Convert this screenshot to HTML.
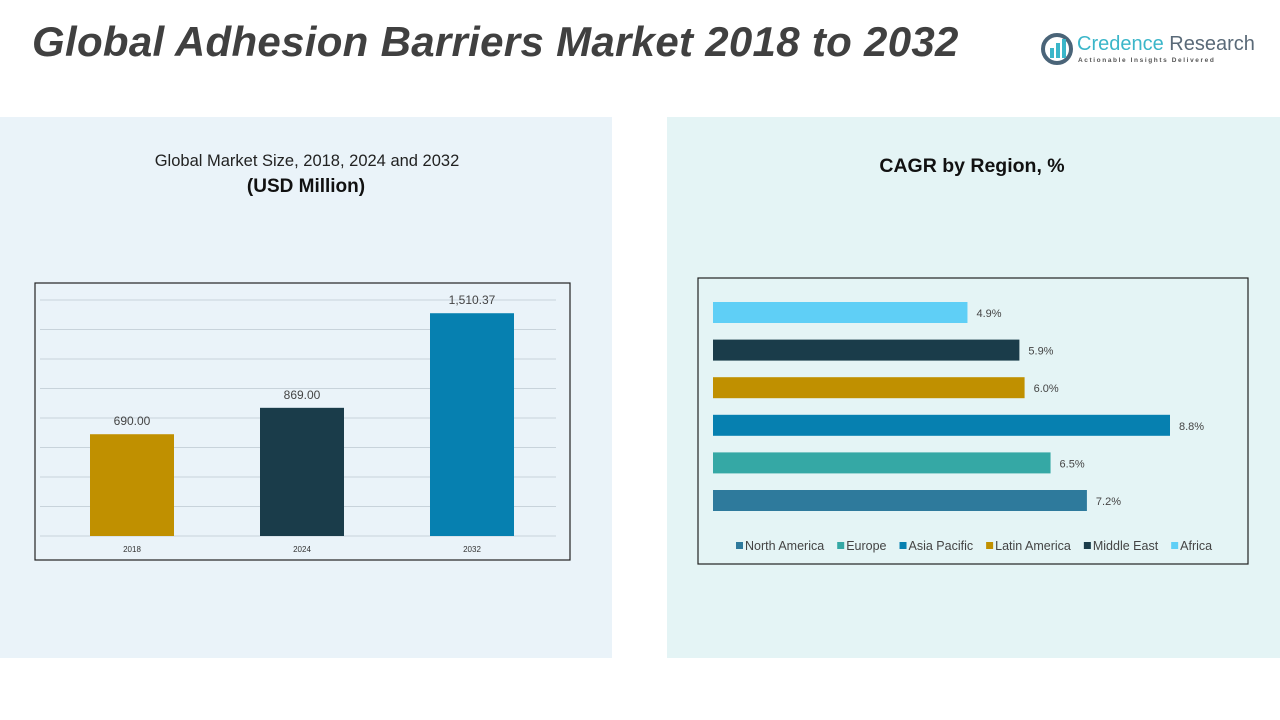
<!DOCTYPE html>
<html><head><meta charset="utf-8"><style>
body{margin:0;width:1280px;height:720px;background:#fff;font-family:"Liberation Sans",sans-serif;position:relative;overflow:hidden}
.abs{position:absolute}
</style></head><body>
<div class="abs" style="left:32px;top:18px;font-size:42px;font-weight:bold;font-style:italic;color:#404040;letter-spacing:0.3px">Global Adhesion Barriers Market 2018 to 2032</div>
<div class="abs" style="left:1040px;top:30px;width:220px;height:40px">
 <svg width="34" height="34" style="position:absolute;left:0;top:2px"><circle cx="17" cy="17" r="14" fill="none" stroke="#4a6478" stroke-width="4"/><rect x="10" y="16" width="4" height="10" fill="#3bb6c9"/><rect x="16" y="11" width="4" height="15" fill="#3bb6c9"/><rect x="22" y="7" width="4" height="19" fill="#3bb6c9"/></svg>
 <div class="abs" style="left:37px;top:3px;font-size:20px;color:#3bb6c9;white-space:nowrap">Credence <span style="color:#5a6a78">Research</span></div>
 <div class="abs" style="left:38px;top:27px;font-size:6.5px;font-weight:bold;letter-spacing:1.6px;color:#555;white-space:nowrap">Actionable Insights Delivered</div>
</div>
<div class="abs" style="left:0;top:117px;width:612px;height:541px;background:#eaf3f9"></div>
<div class="abs" style="left:667px;top:117px;width:613px;height:541px;background:#e4f4f5"></div>
<div class="abs" style="left:0;top:152px;width:614px;text-align:center;font-size:16.5px;color:#222">Global Market Size, 2018, 2024 and 2032</div>
<div class="abs" style="left:0;top:176px;width:612px;text-align:center;font-size:19px;font-weight:bold;color:#111">(USD Million)</div>
<div class="abs" style="left:672px;top:155px;width:600px;text-align:center;font-size:19.5px;font-weight:bold;color:#111">CAGR by Region, %</div>
<svg class="abs" style="left:0;top:0" width="1280" height="720" id="charts">
 <rect x="35" y="283" width="535" height="277" fill="none" stroke="#222" stroke-width="1.2"/>
 <rect x="698" y="278" width="550" height="286" fill="none" stroke="#222" stroke-width="1.2"/>
 <g id="g1"></g><g id="g2"></g>
</svg>
<script>
const years=["2018","2024","2032"];
const marketValues=[690.00,869.00,1510.37];
const valueLabels=["690.00","869.00","1,510.37"];
const yTicks=[0,200,400,600,800,1000,1200,1400,1600];
const regions=["Africa","Middle East","Latin America","Asia Pacific","Europe","North America"];
const cagrValues=[4.9,5.9,6.0,8.8,6.5,7.2];
const legendOrder=["North America","Europe","Asia Pacific","Latin America","Middle East","Africa"];
const barColors=["#c09000","#1a3c4a","#0680b0"];
const regionColors={"Africa":"#5fcff6","Middle East":"#1a3c4a","Latin America":"#c09000","Asia Pacific":"#0680b0","Europe":"#35a8a5","North America":"#2e7a9c"};
function mk(p,t,a){const e=document.createElementNS("http://www.w3.org/2000/svg",t);for(const k in a)e.setAttribute(k,a[k]);p.appendChild(e);return e;}
const g1=document.getElementById('g1');
const y=v=>536-v*(236/1600);
const xc=i=>132+i*170;
yTicks.forEach(t=>{const l=mk(g1,'line',{x1:40,x2:556,y1:y(t),y2:y(t),stroke:'#c8d3db','stroke-width':1});

});
years.forEach((yr,i)=>{
 const r=mk(g1,'rect',{x:xc(i)-42,y:y(marketValues[i]),width:84,height:536-y(marketValues[i]),fill:barColors[i]});
 
 
 const t=mk(g1,'text',{x:xc(i),y:y(marketValues[i])-9,'text-anchor':'middle','font-size':12,fill:'#444','font-family':'Liberation Sans'});t.textContent=valueLabels[i];
 
 
 const a=mk(g1,'text',{x:xc(i),y:552,'text-anchor':'middle','font-size':8,fill:'#333','font-family':'Liberation Sans'});a.textContent=yr;
 
 
});
const g2=document.getElementById('g2');
const xs=v=>713+v*(457/8.8);
const yr=i=>302+i*37.6;
regions.forEach((rg,i)=>{
 const r=mk(g2,'rect',{x:713,y:yr(i),width:xs(cagrValues[i])-713,height:21,fill:regionColors[rg]});
 
 
 const t=mk(g2,'text',{x:xs(cagrValues[i])+9,y:yr(i)+15,'font-size':11,fill:'#444','font-family':'Liberation Sans'});t.textContent=cagrValues[i].toFixed(1)+'%';
 
 
});
let lx=736;
legendOrder.forEach(rg=>{
 const s=mk(g2,'rect',{x:lx,y:542,width:7,height:7,fill:regionColors[rg]});
 
 
 const t=mk(g2,'text',{x:lx+9,y:550,'font-size':12.5,fill:'#444','font-family':'Liberation Sans'});t.textContent=rg;
 
 
 lx+=9+t.getComputedTextLength()+13;
});
</script>
</body></html>
